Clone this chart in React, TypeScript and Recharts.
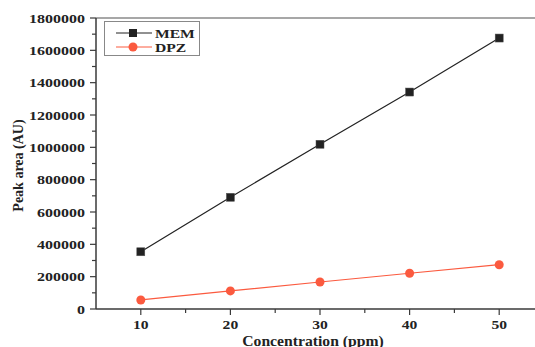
import React from 'react';
import {
  LineChart,
  Line,
  XAxis,
  YAxis,
  ReferenceLine,
} from 'recharts';

const concentrations = [10, 20, 30, 40, 50];
const memArea = [354000, 691000, 1019000, 1342000, 1676000];
const dpzArea = [56000, 112000, 167000, 221000, 274000];
const xTicks = [5, 10, 15, 20, 25, 30, 35, 40, 45, 50, 55];
const yTicks = [
  0, 100000, 200000, 300000, 400000, 500000, 600000, 700000, 800000, 900000,
  1000000, 1100000, 1200000, 1300000, 1400000, 1500000, 1600000, 1700000, 1800000,
];
const seriesNames = ['MEM', 'DPZ'];

const chartData = concentrations.map((c, i) => ({
  conc: c,
  MEM: memArea[i],
  DPZ: dpzArea[i],
}));

const FONT = '"Liberation Serif", "Times New Roman", serif';
const AXIS_COLOR = '#3a3a3a';
const MEM_COLOR = '#222222';
const DPZ_COLOR = '#fb5a3f';

const YTick = (props: any) => {
  const { x, y, payload } = props;
  const major = payload.value % 200000 === 0;
  return (
    <g>
      <line x1={x} y1={y} x2={x - (major ? 6 : 4)} y2={y} stroke={AXIS_COLOR} strokeWidth={1.2} />
      {major && (
        <text
          transform={`translate(${x - 11},${y + 4.5}) scale(1.23,1)`}
          textAnchor="end"
          fontFamily={FONT}
          fontWeight="bold"
          fontSize={13}
          fill="#222"
        >
          {payload.value}
        </text>
      )}
    </g>
  );
};

const XTick = (props: any) => {
  const { x, y, payload } = props;
  const major = payload.value % 10 === 0;
  if (payload.value === 5 || payload.value === 55) return <g />;
  return (
    <g>
      <line x1={x} y1={y} x2={x} y2={y + (major ? 6 : 4)} stroke={AXIS_COLOR} strokeWidth={1.2} />
      {major && (
        <text
          transform={`translate(${x},${y + 20}) scale(1.2,1)`}
          textAnchor="middle"
          fontFamily={FONT}
          fontWeight="bold"
          fontSize={13}
          fill="#222"
        >
          {payload.value}
        </text>
      )}
    </g>
  );
};

const XTitle = (props: any) => {
  const { viewBox } = props;
  const cx = viewBox.x + viewBox.width / 2 - 7;
  return (
    <text
      transform={`translate(${cx},${viewBox.y + 37}) scale(1.12,1)`}
      textAnchor="middle"
      fontFamily={FONT}
      fontWeight="bold"
      fontSize={14}
      fill="#222"
    >
      Concentration (ppm)
    </text>
  );
};

const YTitle = (props: any) => {
  const { viewBox } = props;
  const cy = viewBox.y + viewBox.height / 2 + 2;
  return (
    <text
      transform={`translate(23,${cy}) rotate(-90)`}
      textAnchor="middle"
      fontFamily={FONT}
      fontWeight="bold"
      fontSize={14}
      fill="#222"
    >
      Peak area (AU)
    </text>
  );
};

const SquareDot = (props: any) => {
  const { cx, cy, index } = props;
  return <rect key={`sq-${index}`} x={cx - 4} y={cy - 4} width={8} height={8} fill={MEM_COLOR} stroke="#555" strokeWidth={0.5} />;
};

const CircleDot = (props: any) => {
  const { cx, cy, index } = props;
  return <circle key={`ci-${index}`} cx={cx} cy={cy} r={4.5} fill={DPZ_COLOR} />;
};

const LegendBox = () => (
  <svg width={96} height={35} style={{ position: 'absolute', left: 104, top: 21, display: 'block' }}>
    <rect x={0.5} y={0.5} width={95} height={34} fill="#fff" stroke="#888" strokeWidth={1} />
    <line x1={12} y1={12} x2={48} y2={12} stroke={MEM_COLOR} strokeWidth={1} />
    <rect x={25} y={8} width={8} height={8} fill={MEM_COLOR} />
    <text transform="translate(51,17) scale(1.2,1)" fontFamily={FONT} fontWeight="bold" fontSize={13} fill="#222">
      {seriesNames[0]}
    </text>
    <line x1={12} y1={26} x2={48} y2={26} stroke={DPZ_COLOR} strokeWidth={1} />
    <circle cx={29} cy={26} r={4.5} fill={DPZ_COLOR} />
    <text transform="translate(51,31) scale(1.2,1)" fontFamily={FONT} fontWeight="bold" fontSize={13} fill="#222">
      {seriesNames[1]}
    </text>
  </svg>
);

export default function App() {
  return (
    <div style={{ position: 'absolute', left: 0, top: 0, width: 535, height: 347, overflow: 'hidden', background: '#fff' }}>
      <LineChart
        width={545}
        height={347}
        data={chartData}
        margin={{ top: 18, right: 1, bottom: 0, left: 0 }}
      >
        <XAxis
          dataKey="conc"
          type="number"
          domain={[5, 55]}
          ticks={xTicks}
          interval={0}
          tick={<XTick />}
          tickLine={false}
          tickSize={0}
          tickMargin={0}
          height={38}
          axisLine={{ stroke: AXIS_COLOR, strokeWidth: 1.5 }}
          label={<XTitle />}
        />
        <YAxis
          type="number"
          domain={[0, 1800000]}
          ticks={yTicks}
          interval={0}
          tick={<YTick />}
          tickLine={false}
          tickSize={0}
          tickMargin={0}
          width={96}
          axisLine={{ stroke: AXIS_COLOR, strokeWidth: 1.5 }}
          label={<YTitle />}
        />
        <ReferenceLine y={1800000} stroke="#8a8a8a" strokeWidth={1.5} />
        <Line
          dataKey="MEM"
          name={seriesNames[0]}
          stroke={MEM_COLOR}
          strokeWidth={1.2}
          dot={<SquareDot />}
          isAnimationActive={false}
        />
        <Line
          dataKey="DPZ"
          name={seriesNames[1]}
          stroke={DPZ_COLOR}
          strokeWidth={1.2}
          dot={<CircleDot />}
          isAnimationActive={false}
        />
      </LineChart>
      <LegendBox />
    </div>
  );
}
